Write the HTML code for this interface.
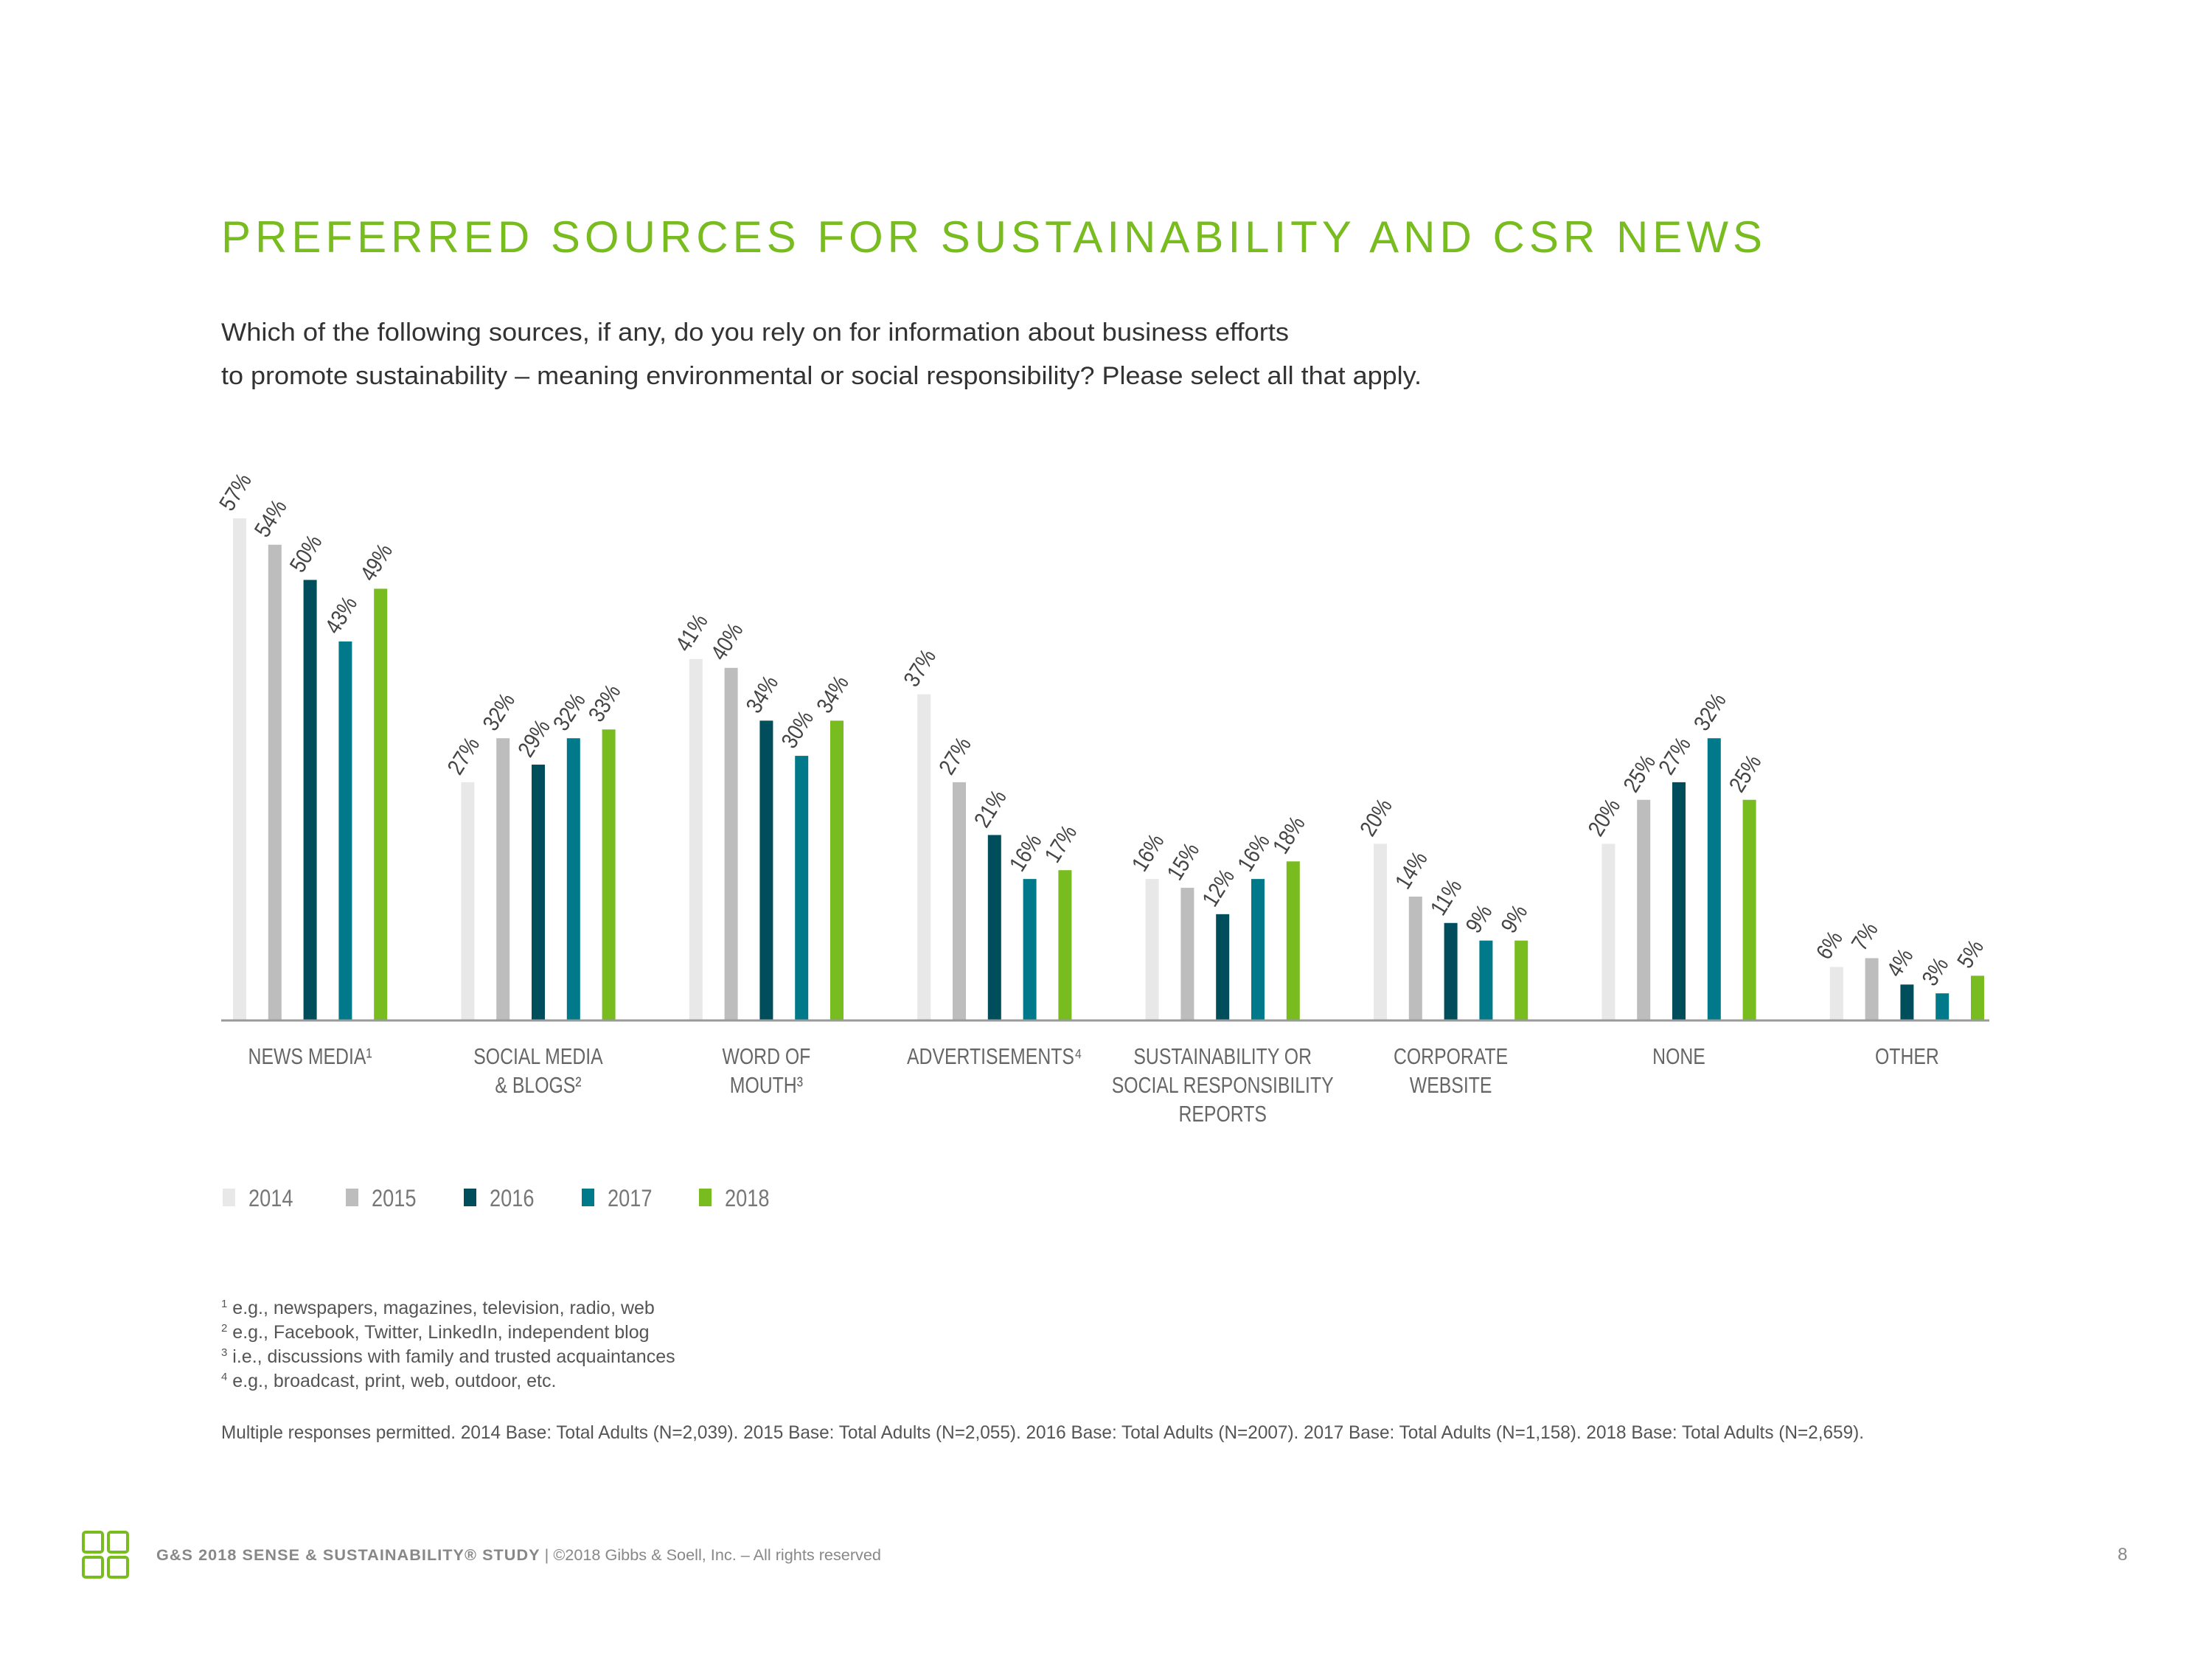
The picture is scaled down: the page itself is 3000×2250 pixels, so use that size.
<!DOCTYPE html>
<html><head><meta charset="utf-8"><style>
html,body{margin:0;padding:0;background:#fff;}
svg{display:block;font-family:"Liberation Sans",sans-serif;}
</style></head><body>
<svg id="chart" width="3000" height="2250" viewBox="0 0 3000 2250">
<text x="300" y="342" font-size="60" fill="#78bc20" textLength="2090" lengthAdjust="spacing">PREFERRED SOURCES FOR SUSTAINABILITY AND CSR NEWS</text>
<text x="300" y="462" font-size="34" fill="#333" textLength="1448" lengthAdjust="spacingAndGlyphs">Which of the following sources, if any, do you rely on for information about business efforts</text>
<text x="300" y="521" font-size="34" fill="#333" textLength="1628" lengthAdjust="spacingAndGlyphs">to promote sustainability – meaning environmental or social responsibility? Please select all that apply.</text>
<g id="bars"></g>
<g id="cats"></g>
<line x1="300" y1="1384" x2="2698" y2="1384" stroke="#999" stroke-width="3"/>
<g id="legend"></g>
<g fill="#555" font-size="25">
<text x="300" y="1782"><tspan font-size="15" dy="-9">1</tspan><tspan dy="9"> e.g., newspapers, magazines, television, radio, web</tspan></text>
<text x="300" y="1815"><tspan font-size="15" dy="-9">2</tspan><tspan dy="9"> e.g., Facebook, Twitter, LinkedIn, independent blog</tspan></text>
<text x="300" y="1848"><tspan font-size="15" dy="-9">3</tspan><tspan dy="9"> i.e., discussions with family and trusted acquaintances</tspan></text>
<text x="300" y="1881"><tspan font-size="15" dy="-9">4</tspan><tspan dy="9"> e.g., broadcast, print, web, outdoor, etc.</tspan></text>
<text x="300" y="1951" textLength="2228" lengthAdjust="spacingAndGlyphs">Multiple responses permitted. 2014 Base: Total Adults (N=2,039). 2015 Base: Total Adults (N=2,055). 2016 Base: Total Adults (N=2007). 2017 Base: Total Adults (N=1,158). 2018 Base: Total Adults (N=2,659).</text>
</g>
<g fill="none" stroke="#78bc20" stroke-width="4">
<rect x="113" y="2078" width="26" height="27" rx="3"/><rect x="147" y="2078" width="26" height="27" rx="3"/>
<rect x="113" y="2112" width="26" height="27" rx="3"/><rect x="147" y="2112" width="26" height="27" rx="3"/>
</g>
<text x="212" y="2116" font-size="21" fill="#888" textLength="983" lengthAdjust="spacingAndGlyphs"><tspan font-weight="bold" letter-spacing="1">G&amp;S 2018 SENSE &amp; SUSTAINABILITY® STUDY</tspan> | ©2018 Gibbs &amp; Soell, Inc. – All rights reserved</text>
<text x="2872" y="2116" font-size="24" fill="#888">8</text>
</svg>
<script>
const categories = [["NEWS MEDIA¹"],["SOCIAL MEDIA","& BLOGS²"],["WORD OF","MOUTH³"],["ADVERTISEMENTS⁴"],["SUSTAINABILITY OR","SOCIAL RESPONSIBILITY","REPORTS"],["CORPORATE","WEBSITE"],["NONE"],["OTHER"]];
const years = ["2014","2015","2016","2017","2018"];
const v2014 = [57,27,41,37,16,20,20,6];
const v2015 = [54,32,40,27,15,14,25,7];
const v2016 = [50,29,34,21,12,11,27,4];
const v2017 = [43,32,30,16,16,9,32,3];
const v2018 = [49,33,34,17,18,9,25,5];
const series = [v2014,v2015,v2016,v2017,v2018];
const colors = ["#e8e8e8","#bdbdbd","#004d5c","#007a8a","#78bc20"];
const NS = "http://www.w3.org/2000/svg";
const baseY = 1383, pxPer = 11.93, groupX0 = 316, groupStep = 309.4, barStep = 47.8, barW = 18;
const xScale = (g,s) => groupX0 + g*groupStep + s*barStep;
const yScale = v => baseY - v*pxPer;
function condense(t, f){ const w = t.getComputedTextLength(); t.setAttribute('textLength', w*f); t.setAttribute('lengthAdjust','spacingAndGlyphs'); }
const barsG = document.getElementById('bars');
const catsG = document.getElementById('cats');
categories.forEach((cat,g)=>{
  series.forEach((vals,s)=>{
    const x = xScale(g,s), y = yScale(vals[g]);
    const r = document.createElementNS(NS,'rect');
    r.setAttribute('x',x); r.setAttribute('y',y); r.setAttribute('width',barW); r.setAttribute('height',baseY-y);
    r.setAttribute('fill',colors[s]);
    
    
    barsG.appendChild(r);
    const t = document.createElementNS(NS,'text');
    const tx = x-2, ty = y-8;
    t.setAttribute('x',tx); t.setAttribute('y',ty);
    t.setAttribute('transform',`rotate(-58 ${tx} ${ty})`);
    t.setAttribute('font-size','31'); t.setAttribute('fill','#444');
    t.textContent = vals[g]+'%';
    
    
    barsG.appendChild(t);
    condense(t, 0.85);
  });
  const cx = xScale(g,2)+barW/2;
  cat.forEach((line,i)=>{
    const t = document.createElementNS(NS,'text');
    t.setAttribute('x',cx); t.setAttribute('y',1443+i*39);
    t.setAttribute('text-anchor','middle'); t.setAttribute('font-size','31'); t.setAttribute('fill','#666');
    t.textContent = line;
    
    
    catsG.appendChild(t);
    condense(t, 0.8);
  });
});
const legX = [302,469,629,789,948];
const legG = document.getElementById('legend');
years.forEach((yr,i)=>{
  const r = document.createElementNS(NS,'rect');
  r.setAttribute('x',legX[i]); r.setAttribute('y',1612); r.setAttribute('width',17); r.setAttribute('height',24);
  r.setAttribute('fill',colors[i]);
  
  
  legG.appendChild(r);
  const t = document.createElementNS(NS,'text');
  t.setAttribute('x',legX[i]+35); t.setAttribute('y',1636);
  t.setAttribute('font-size','32'); t.setAttribute('fill','#777');
  t.textContent = yr;
  
  
  legG.appendChild(t);
  condense(t, 0.85);
});
</script>
</body></html>
